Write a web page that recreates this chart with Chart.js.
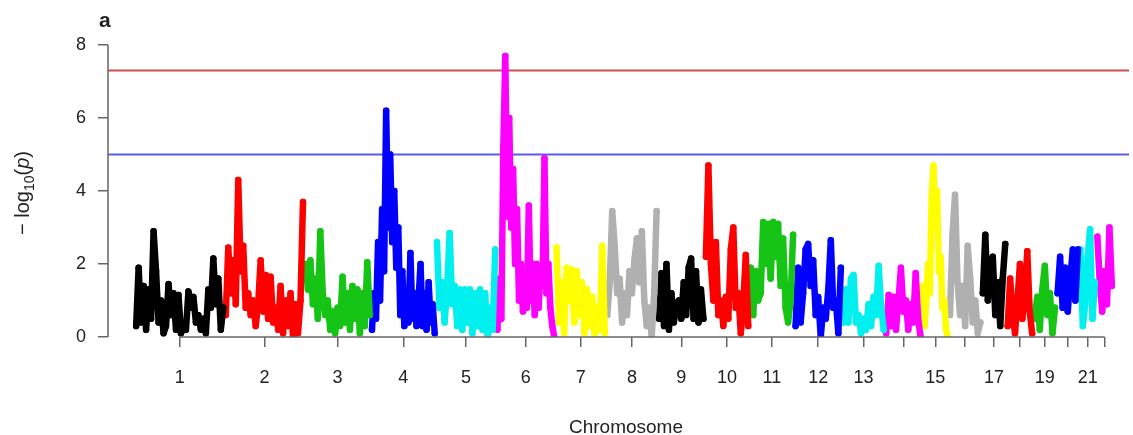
<!DOCTYPE html>
<html>
<head>
<meta charset="utf-8">
<script src="https://cdn.jsdelivr.net/npm/chart.js@4/dist/chart.umd.min.js"></script>
<style>
  html, body { margin: 0; padding: 0; background: #fff; }
  #wrap { width: 1133px; height: 435px; position: relative; }
</style>
</head>
<body>
<div id="wrap"><canvas id="chart-canvas"></canvas></div>
<script>
// chromosome widths (relative genome units) and tick labels
const chromLengths = [90, 80, 67, 65, 61, 59, 51, 52, 47, 45, 45, 48, 43, 37, 27, 33, 25, 27, 23, 23, 17, 17];
const tickLabels = ['1', '2', '3', '4', '5', '6', '7', '8', '9', '10', '11', '12', '13', '', '15', '', '17', '', '19', '', '21', ''];
const yTicks = [0, 2, 4, 6, 8];
const thresholds = [7.3, 5];

// -log10(p) traces, read left to right along each chromosome
const chr1 = [0.3, 1.9, 0.4, 1.4, 0.2, 1.3, 0.5, 2.9, 1.8, 0.4, 1.0, 0.1, 0.3, 1.45, 0.6, 1.2, 0.2, 1.15,
  0.1, 0.3, 0.2, 1.25, 0.8, 1.1, 0.4, 0.6, 0.2, 0.5, 0.1, 1.3, 0.8, 2.15, 0.9, 1.6, 0.2, 0.8];
const chr2 = [0.6, 2.45, 1.2, 2.1, 0.9, 4.3, 1.8, 2.5, 0.8, 1.2, 0.6, 1.0, 0.3, 0.9, 2.1, 0.7, 1.7, 0.5,
  1.65, 0.4, 0.8, 0.2, 1.4, 0.1, 1.0, 0.3, 1.2, 0.0, 0.9, 0.1, 1.0, 3.7];
const chr3 = [2.0, 1.3, 2.1, 0.9, 1.6, 0.5, 2.9, 1.2, 0.6, 1.0, 0.2, 0.7, 0.1, 0.8, 0.3, 1.65, 0.4, 1.2,
  0.2, 1.4, 0.5, 1.3, 0.1, 1.2, 0.3, 2.05, 0.6];
const chr4 = [0.2, 1.2, 0.5, 2.6, 1.0, 3.5, 1.8, 6.2, 3.0, 5.0, 2.6, 4.0, 1.9, 3.0, 0.6, 1.8, 0.3, 1.0,
  0.4, 2.3, 0.5, 1.2, 0.3, 1.0, 2.0, 0.3, 1.2, 0.2, 1.5, 0.4, 0.9, 0.1];
const chr5 = [2.6, 0.8, 1.5, 0.4, 1.3, 2.85, 0.9, 1.4, 0.3, 1.3, 0.2, 1.3, 0.4, 1.3, 0.1, 1.2, 0.3, 1.3,
  0.2, 1.2, 0.0, 0.8, 0.2, 2.4];
const chr6 = [0.2, 1.6, 0.5, 5.2, 7.7, 3.3, 6.0, 3.0, 4.6, 2.0, 3.5, 1.0, 2.0, 0.7, 1.5, 0.8, 3.6, 1.0,
  2.0, 0.6, 2.0, 0.8, 1.8, 1.4, 4.9, 1.2, 2.0, 0.8, 0.3, 0.0];
const chr7 = [2.45, 0.4, 1.5, 0.1, 1.9, 1.0, 1.85, 0.4, 1.8, 0.6, 1.5, 0.1, 1.3, 0.3, 1.1, 0.0, 0.8, 0.2, 2.5, 0.1];
const chr8 = [0.6, 1.5, 3.45, 2.5, 1.2, 1.6, 0.4, 1.2, 0.6, 1.8, 1.2, 2.1, 2.7, 1.5, 2.9, 1.0, 0.3, 0.8, 0.0, 1.2, 3.45];
const chr9 = [0.5, 1.75, 0.3, 2.0, 0.2, 1.2, 0.4, 0.9, 1.0, 0.5, 1.5, 0.6, 1.9, 2.15, 0.5, 1.8, 0.4, 1.3, 0.5];
const chr10 = [2.2, 4.7, 2.0, 1.0, 2.6, 0.6, 1.0, 0.3, 1.1, 0.5, 2.4, 3.0, 0.8, 1.2, 0.1, 0.9, 2.25, 0.3];
const chr11 = [1.9, 0.6, 1.8, 1.0, 1.2, 3.15, 2.0, 3.1, 1.6, 3.15, 2.2, 3.1, 1.4, 2.7, 0.8, 0.4, 1.0, 2.8];
const chr12 = [0.3, 1.9, 0.4, 1.2, 2.4, 2.55, 1.4, 2.1, 0.6, 1.1, 0.0, 0.8, 0.5, 1.3, 2.65, 0.8, 1.0, 0.1, 1.9];
const chr13 = [0.4, 1.3, 0.4, 1.6, 1.7, 0.4, 0.6, 0.1, 0.5, 0.2, 0.9, 0.3, 1.1, 0.6, 1.95, 0.8, 0.2];
const chr14 = [0.1, 1.15, 0.3, 1.1, 0.2, 1.0, 1.9, 0.7, 1.0, 0.2, 0.9, 0.4, 1.75, 0.5, 0.0];
const chr15 = [1.4, 0.3, 1.0, 2.0, 1.2, 3.8, 4.7, 3.0, 4.0, 1.8, 2.2, 0.8, 1.0, 0.2, 0.0];
const chr16 = [0.6, 2.8, 3.9, 1.5, 0.6, 1.4, 0.3, 2.5, 1.6, 0.4, 1.0, 0.1, 0.4];
const chr17 = [1.2, 2.8, 1.0, 1.9, 2.2, 0.6, 1.5, 0.3, 1.6, 2.55];
const chr18 = [0.3, 1.6, 0.6, 0.1, 1.0, 2.0, 0.5, 1.2, 2.35, 0.7, 0.1];
const chr19 = [0.5, 1.1, 0.2, 1.3, 1.95, 0.6, 1.2, 0.1, 0.8];
const chr20 = [1.2, 2.2, 0.8, 1.9, 0.7, 1.6, 2.4, 1.0, 2.4];
const chr21 = [2.4, 0.3, 0.9, 2.2, 2.95, 0.5, 1.5];
const chr22 = [2.75, 1.5, 0.7, 1.8, 0.9, 3.0, 1.4];

const chromValues = [chr1, chr2, chr3, chr4, chr5, chr6, chr7, chr8, chr9, chr10, chr11,
  chr12, chr13, chr14, chr15, chr16, chr17, chr18, chr19, chr20, chr21, chr22];
const palette = ['#000000', '#ff0000', '#16c416', '#0000ff', '#00f0f0', '#ff00ff', '#ffff00', '#b0b0b0'];

const X_MIN = -27, X_MAX = 998;

const centres = [];
const datasets = [];
let start = 0;
chromValues.forEach((vals, c) => {
    const len = chromLengths[c];
    const col = palette[c % palette.length];
    centres.push(start + len / 2);
    datasets.push({
        data: vals.map((v, i) => ({ x: start + (i + 0.5) * len / vals.length, y: v })),
        borderColor: col,
        backgroundColor: col,
        borderWidth: 6.5,
        borderJoinStyle: 'round',
        borderCapStyle: 'round',
        pointRadius: 3.2,
        pointBorderWidth: 0,
        showLine: true,
        order: 0
    });
    start += len;
});

const lineColours = ['#c85050', '#5a5af0'];
thresholds.forEach((t, i) => {
    datasets.push({
        data: [{ x: X_MIN, y: t }, { x: X_MAX, y: t }],
        borderColor: lineColours[i],
        borderWidth: 2,
        pointRadius: 0,
        showLine: true,
        order: 5
    });
});

const axisColour = '#666';
const font = "'Liberation Sans', Arial, sans-serif";

const decorations = {
    id: 'decorations',
    afterDraw(chart) {
        const { ctx, scales: { x, y }, chartArea } = chart;
        ctx.save();
        ctx.strokeStyle = axisColour;
        ctx.lineWidth = 1.5;
        ctx.beginPath();
        ctx.moveTo(chartArea.left, y.getPixelForValue(0));
        ctx.lineTo(chartArea.left, y.getPixelForValue(8));
        ctx.moveTo(x.getPixelForValue(centres[0]), chartArea.bottom);
        ctx.lineTo(x.getPixelForValue(centres[centres.length - 1]), chartArea.bottom);
        ctx.stroke();

        ctx.fillStyle = '#222';
        // panel letter
        ctx.font = 'bold 21px ' + font;
        ctx.textAlign = 'left';
        ctx.textBaseline = 'alphabetic';
        ctx.fillText('a', 99, 27);

        // x title
        ctx.font = '19px ' + font;
        ctx.textAlign = 'center';
        ctx.fillText('Chromosome', 626, 433);

        // y title: −log10(p)
        ctx.translate(29, 193);
        ctx.rotate(-Math.PI / 2);
        const parts = [
            { t: '\u2212 ', f: '20px ' + font, dy: 0 },
            { t: 'log', f: '20px ' + font, dy: 0 },
            { t: '10', f: '14px ' + font, dy: 5 },
            { t: '(', f: '20px ' + font, dy: 0 },
            { t: 'p', f: 'italic 20px ' + font, dy: 0 },
            { t: ')', f: '20px ' + font, dy: 0 }
        ];
        let total = 0;
        parts.forEach(p => { ctx.font = p.f; p.w = ctx.measureText(p.t).width; total += p.w; });
        let px = -total / 2;
        ctx.textAlign = 'left';
        parts.forEach(p => { ctx.font = p.f; ctx.fillText(p.t, px, p.dy); px += p.w; });
        ctx.restore();
    }
};

new Chart(document.getElementById('chart-canvas').getContext('2d'), {
    type: 'scatter',
    data: { datasets },
    options: {
        responsive: true,
        maintainAspectRatio: false,
        animation: false,
        layout: { padding: { top: 30, right: 0, bottom: 0, left: 0 } },
        plugins: { legend: { display: false }, tooltip: { enabled: false } },
        scales: {
            x: {
                type: 'linear',
                min: X_MIN,
                max: X_MAX,
                afterBuildTicks: s => { s.ticks = centres.map(v => ({ value: v })); },
                afterFit: s => { s.height = 98; },
                border: { display: false },
                grid: { drawOnChartArea: false, drawTicks: true, tickLength: 10, color: axisColour, lineWidth: 1.5 },
                ticks: {
                    autoSkip: false,
                    maxRotation: 0,
                    padding: 20,
                    color: '#222',
                    font: { family: font, size: 18 },
                    callback: (v, i) => tickLabels[i]
                }
            },
            y: {
                min: 0,
                max: 8.411,
                afterBuildTicks: s => { s.ticks = yTicks.map(v => ({ value: v })); },
                afterFit: s => { s.width = 108; },
                border: { display: false },
                grid: { drawOnChartArea: false, drawTicks: true, tickLength: 10, color: axisColour, lineWidth: 1.5 },
                ticks: {
                    padding: 12,
                    color: '#222',
                    font: { family: font, size: 18 }
                }
            }
        }
    },
    plugins: [decorations]
});
</script>
</body>
</html>
